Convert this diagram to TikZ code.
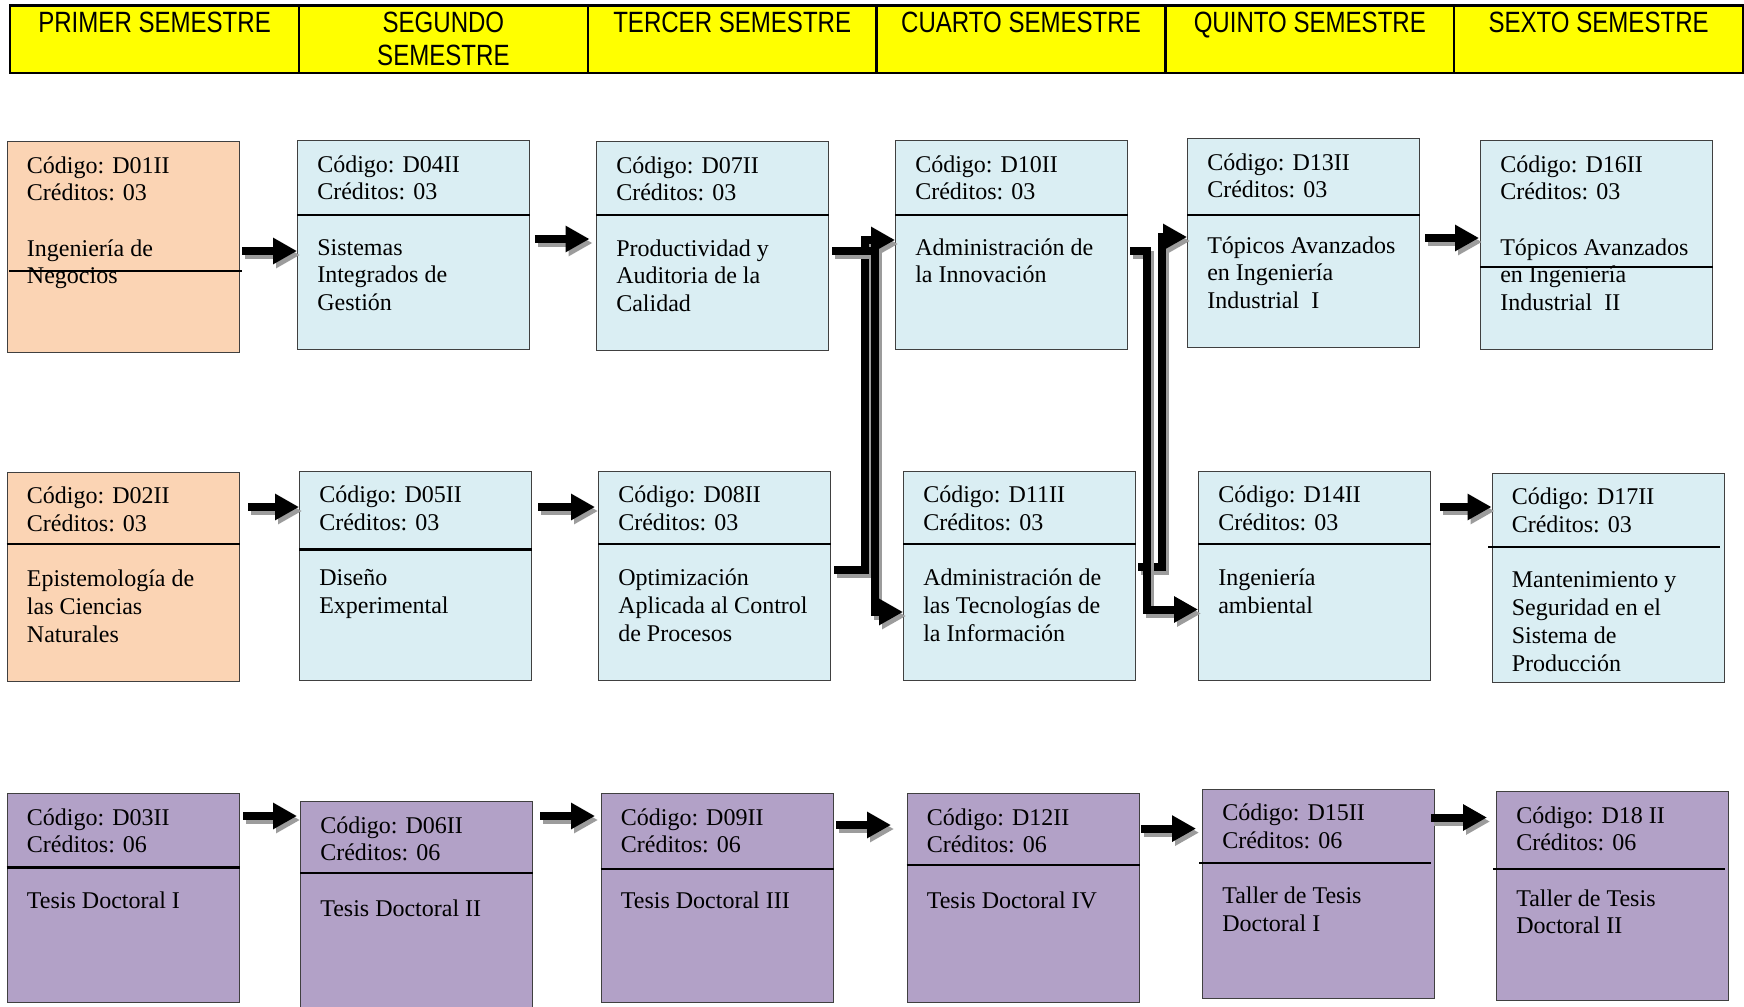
\documentclass[tikz,border=0pt]{standalone}
\usepackage{fontspec}
\setmainfont{Liberation Serif}
\newfontfamily\hdrfont[FakeStretch=0.82]{Liberation Sans}
\usetikzlibrary{arrows.meta,calc}

\definecolor{hdryellow}{HTML}{FFFF00}
\definecolor{peach}{HTML}{FBD4B4}
\definecolor{paleblue}{HTML}{DAEEF3}
\definecolor{lilac}{HTML}{B2A1C7}
\definecolor{boxedge}{HTML}{404040}
\definecolor{shade}{HTML}{9C9C9C}

\tikzset{
  hcell/.style={draw=black, line width=1.8pt, fill=hdryellow, anchor=north west,
    minimum width=216.6pt, minimum height=50.6pt, inner sep=0pt},
  hlabel/.style={font=\hdrfont\fontsize{22}{24.4}\selectfont, anchor=base, inner sep=0pt},
  course/.style={draw=boxedge, line width=1pt, anchor=north west,
    minimum width=174pt, minimum height=156.75pt, inner sep=0pt},
  txt/.style={font=\fontsize{18}{20.85}\selectfont, anchor=base west, inner sep=0pt},
  rule/.style={draw=black, line width=1.6pt},
  flow/.style={draw=black, line width=6pt, line join=miter, line cap=butt,
    -{Triangle[length=18pt,width=18.75pt]}},
  flowshade/.style={flow, draw=shade, transform canvas={shift={(3,4)}}},
}

% one course: name, x, y, fill, code, credits, title, extra box options
\newcommand\course[8]{%
  \node[course, fill=#4, #8] (#1) at (#2,#3) {};
  \node[txt] (#1-id) at ($(#1.north west)+(20,32)$)
    {\parbox[t]{190pt}{\raggedright C\'odigo: #5\\Cr\'editos: #6}};
  \node[txt] (#1-name) at ($(#1.north west)+(20,115)$)
    {\parbox[t]{190pt}{\raggedright #7}};
}
% horizontal rule inside a course box: name, offset from top, left and right overhang
\newcommand\courserule[4]{%
  \draw[rule] ($(#1.north west)+(-#3,#2)$) -- ($(#1.north east)+(#4,#2)$);
}
% connector with its drop shadow
\newcommand\flowpath[1]{%
  \draw[flowshade] #1;
  \draw[flow] #1;
}

\begin{document}
\begin{tikzpicture}[x=0.75pt,y=-0.75pt]
\useasboundingbox (0,0) rectangle (1744,1006);
\fill[white] (0,0) rectangle (1744,1006);
\clip (0,0) rectangle (1744,1006);

% semester header
\foreach \i/\lbl in {0/h1,1/h2,2/h3,3/h4,4/h5,5/h6}
  \node[hcell] (\lbl) at ({9+288.8*\i},4.5) {};
\node[hlabel] (t1) at ($(h1.north)+(0,28)$) {PRIMER SEMESTRE};
\node[hlabel] (t2) at ($(h2.north)+(0,28)$) {\parbox[t]{200pt}{\centering SEGUNDO\\SEMESTRE}};
\node[hlabel] (t3) at ($(h3.north)+(0,28)$) {TERCER SEMESTRE};
\node[hlabel] (t4) at ($(h4.north)+(0,28)$) {CUARTO SEMESTRE};
\node[hlabel] (t5) at ($(h5.north)+(0,28)$) {QUINTO SEMESTRE};
\node[hlabel] (t6) at ($(h6.north)+(0,28)$) {SEXTO SEMESTRE};

% first row
\course{d01}{6.7}{141}{peach}{D01II}{03}{Ingenier\'ia de\\Negocios}{minimum height=157.9pt}
\course{d04}{297}{140}{paleblue}{D04II}{03}{Sistemas\\Integrados de\\Gesti\'on}{}
\course{d07}{596}{141}{paleblue}{D07II}{03}{Productividad y\\Auditoria de la\\Calidad}{}
\course{d10}{895}{140}{paleblue}{D10II}{03}{Administraci\'on de\\la Innovaci\'on}{}
\course{d13}{1187}{138}{paleblue}{D13II}{03}{T\'opicos Avanzados\\en Ingenier\'ia\\Industrial\ \ I}{}
\course{d16}{1480}{140}{paleblue}{D16II}{03}{T\'opicos Avanzados\\en Ingenier\'ia\\Industrial\ \ II}{}

% second row
\course{d02}{6.7}{471.6}{peach}{D02II}{03}{Epistemolog\'ia de\\las Ciencias\\Naturales}{}
\course{d05}{299}{470.5}{paleblue}{D05II}{03}{Dise\~no\\Experimental}{}
\course{d08}{598}{470.5}{paleblue}{D08II}{03}{Optimizaci\'on\\Aplicada al Control\\de Procesos}{}
\course{d11}{903}{470.5}{paleblue}{D11II}{03}{Administraci\'on de\\las Tecnolog\'ias de\\la Informaci\'on}{}
\course{d14}{1198}{470.5}{paleblue}{D14II}{03}{Ingenier\'ia\\ambiental}{}
\course{d17}{1491.5}{472.7}{paleblue}{D17II}{03}{Mantenimiento y\\Seguridad en el\\Sistema de\\Producci\'on}{}

% third row
\course{d03}{6.7}{793}{lilac}{D03II}{06}{Tesis Doctoral I}{}
\course{d06}{300}{801}{lilac}{D06II}{06}{Tesis Doctoral II}{minimum height=165pt}
\course{d09}{600.6}{793}{lilac}{D09II}{06}{Tesis Doctoral III}{}
\course{d12}{906.5}{793}{lilac}{D12II}{06}{Tesis Doctoral IV}{}
\course{d15}{1202}{788.5}{lilac}{D15II}{06}{Taller de Tesis\\Doctoral I}{}
\course{d18}{1496}{791}{lilac}{D18 II}{06}{Taller de Tesis\\Doctoral II}{}

% rules separating code block from title
\courserule{d01}{130}{-2.3}{2}
\courserule{d04}{74.7}{0}{0}
\courserule{d07}{73.7}{0}{0}
\courserule{d10}{74.7}{0}{0}
\courserule{d13}{76.7}{0}{0}
\courserule{d16}{127}{0}{0}
\courserule{d02}{72.4}{0}{0}
\courserule{d05}{79}{0}{0}
\courserule{d08}{73.5}{0}{0}
\courserule{d11}{73.5}{0}{0}
\courserule{d14}{73.5}{0}{0}
\courserule{d17}{74}{3.5}{-5}
\courserule{d03}{74.5}{0}{0}
\courserule{d06}{72}{0}{0}
\courserule{d09}{75.6}{0}{0}
\courserule{d12}{72}{0}{0}
\courserule{d15}{74.5}{3}{-4}
\courserule{d18}{77.6}{3}{-4}

% straight connectors
\flowpath{($(d01.east |- 0,251)+(2,0)$) -- (d04.west |- 0,251)}
\flowpath{($(d04.east |- 0,239)+(4.5,0)$) -- ($(d07.west |- 0,239)+(-6.5,0)$)}
\flowpath{($(d13.east |- 0,238)+(5,0)$) -- ($(d16.west |- 0,238)+(-1,0)$)}
\flowpath{($(d02.east |- 0,507)+(8,0)$) -- (d05.west |- 0,507)}
\flowpath{($(d05.east |- 0,507)+(6,0)$) -- ($(d08.west |- 0,507)+(-3,0)$)}
\flowpath{($(d14.east |- 0,507)+(9,0)$) -- (d17.west |- 0,507)}
\flowpath{($(d03.east |- 0,816)+(3,0)$) -- ($(d06.west |- 0,816)+(-3,0)$)}
\flowpath{($(d06.east |- 0,816)+(7,0)$) -- ($(d09.west |- 0,816)+(-5.6,0)$)}
\flowpath{($(d09.east |- 0,825)+(2,0)$) -- ($(d12.west |- 0,825)+(-15.5,0)$)}
\flowpath{($(d12.east |- 0,828.6)+(1,0)$) -- ($(d15.west |- 0,828.6)+(-6,0)$)}
\flowpath{($(d15.east |- 0,817.5)+(-4,0)$) -- ($(d18.west |- 0,817.5)+(-9,0)$)}

% crossing connectors between the first two rows
\flowpath{($(d08.east |- 0,570)+(3,0)$) -- (865,570) -- (865,240) -- (d10.west |- 0,240)}
\flowpath{($(d07.east |- 0,251)+(3,0)$) -- (875,251) -- (875,612) -- (d11.west |- 0,612)}
\flowpath{($(d11.east |- 0,567)+(2,0)$) -- (1162,567) -- (1162,237) -- (d13.west |- 0,237)}
\flowpath{($(d10.east |- 0,251)+(2,0)$) -- (1147,251) -- (1147,609.5) -- (d14.west |- 0,609.5)}
\end{tikzpicture}
\end{document}
